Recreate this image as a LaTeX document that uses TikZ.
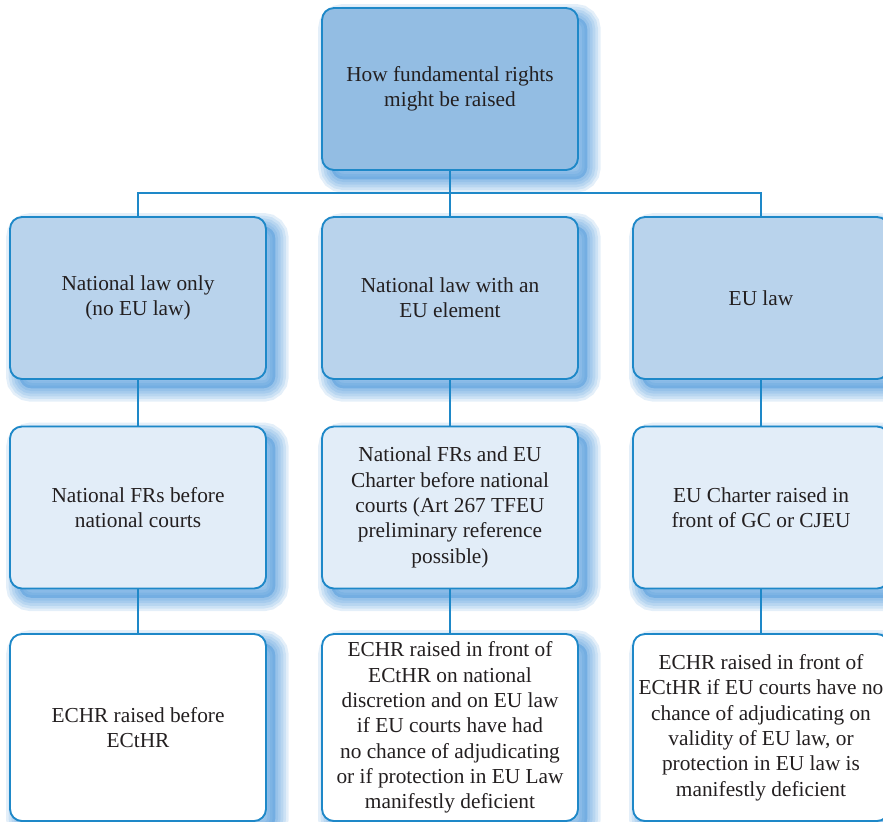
\documentclass[tikz,border=0pt]{standalone}
\usepackage{fontspec}
\setmainfont{Liberation Serif}
\definecolor{lineblue}{HTML}{1E88C8}
\definecolor{rootfill}{HTML}{93BDE3}
\definecolor{lawfill}{HTML}{B9D3EC}
\definecolor{courtfill}{HTML}{E2EDF8}
\definecolor{shadeblue}{HTML}{2F86D4}
\definecolor{textgray}{HTML}{231F20}
\begin{document}
\begin{tikzpicture}[x=0.75pt,y=-0.75pt,line width=1.4pt,
shadelayer/.style={preaction={draw=shadeblue,opacity=0.13,line width=#1,
  transform canvas={xshift=7pt,yshift=-7pt}}},
shadefill/.style={preaction={fill=shadeblue,opacity=0.35,
  transform canvas={xshift=7pt,yshift=-7pt}}},
rbox/.style={shadefill,shadelayer=20pt,shadelayer=16pt,shadelayer=12pt,shadelayer=8pt,shadelayer=4pt,
  draw=lineblue,rounded corners=9pt,inner sep=0pt,minimum width=192pt,
  minimum height=121.5pt,align=center,text=textgray,font=\fontsize{16}{19}\selectfont},
rootblock/.style={rbox,fill=rootfill},
lawblock/.style={rbox,fill=lawfill},
courtblock/.style={rbox,fill=courtfill},
echrblock/.style={rbox,fill=white,minimum height=140.25pt},
link/.style={draw=lineblue}]

\useasboundingbox (0,0) rectangle (883,822);

\draw (450,89) node[rootblock] (R) {How fundamental rights\\ might be raised};

\draw (138,298) node[lawblock] (NL) {National law only\\ (no EU law)};
\draw (450,298) node[lawblock] (NE) {National law with an\\ EU element};
\draw (761,298) node[lawblock] (EU) {EU law};

\draw (138,507.5) node[courtblock] (NLc) {National FRs before\\ national courts};
\draw (450,507.5) node[courtblock] (NEc) {National FRs and EU\\ Charter before national\\ courts (Art 267 TFEU\\ preliminary reference\\ possible)};
\draw (761,507.5) node[courtblock] (EUc) {EU Charter raised in\\ front of GC or CJEU};

\draw (138,727.5) node[echrblock] (NLh) {ECHR raised before\\ ECtHR};
\draw (450,727.5) node[echrblock] (NEh) {ECHR raised in front of\\ ECtHR on national\\ discretion and on EU law\\ if EU courts have had\\ no chance of adjudicating\\ or if protection in EU Law\\ manifestly deficient};
\draw (761,727.5) node[echrblock] (EUh) {ECHR raised in front of\\ ECtHR if EU courts have no\\ chance of adjudicating on\\ validity of EU law, or\\ protection in EU law is\\ manifestly deficient};

% tree
\coordinate (J) at (450,193);
\draw[link] (R.south) -- (J);
\draw[link] (NL.north) -- (NL.north |- J) -- (EU.north |- J) -- (EU.north);
\draw[link] (J) -- (NE.north);

\draw[link] (NL) -- (NLc);
\draw[link] (NE) -- (NEc);
\draw[link] (EU) -- (EUc);
\draw[link] (NLc) -- (NLh);
\draw[link] (NEc) -- (NEh);
\draw[link] (EUc) -- (EUh);
\end{tikzpicture}
\end{document}
